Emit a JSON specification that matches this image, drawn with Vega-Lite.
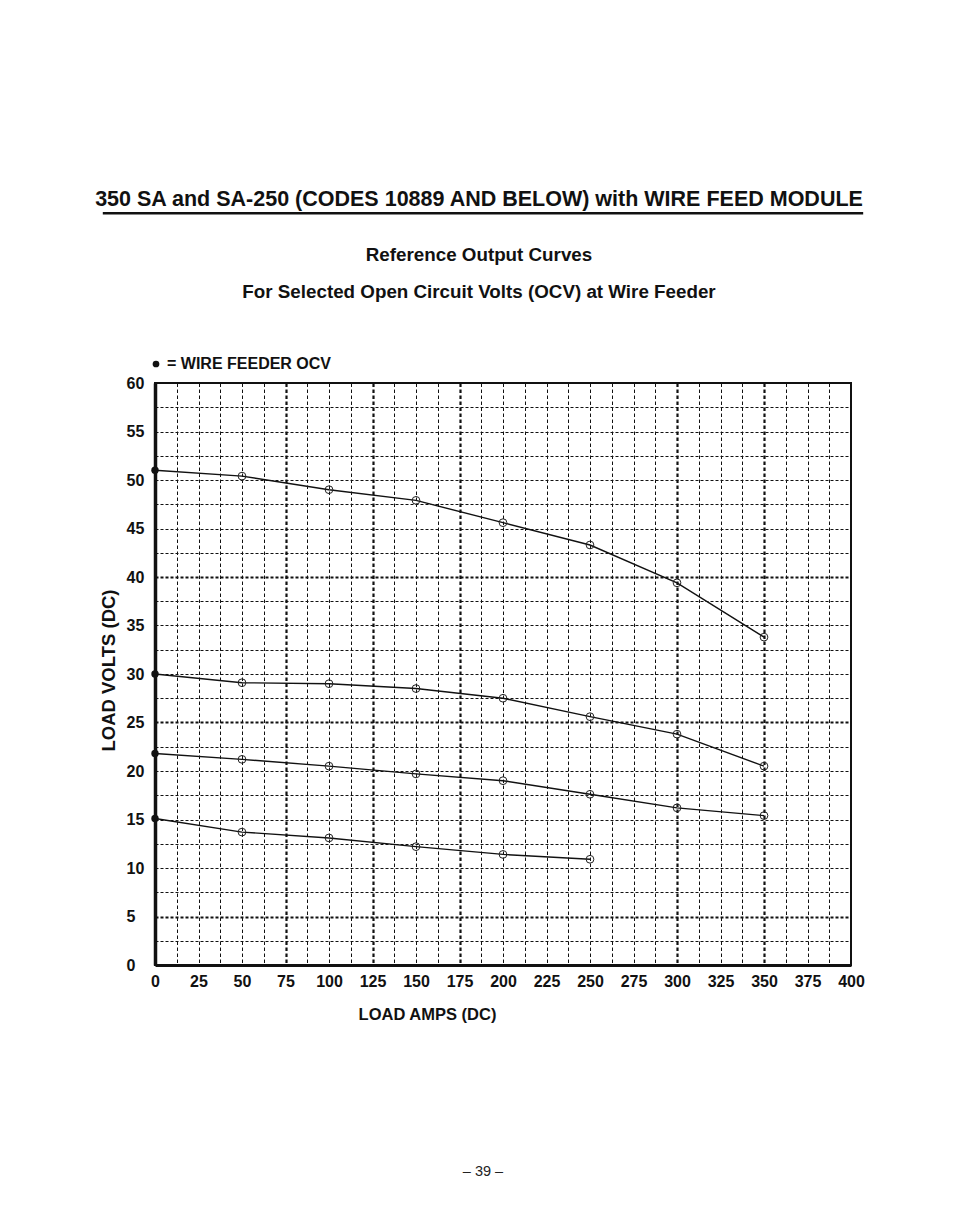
{
  "$schema": "https://vega.github.io/schema/vega-lite/v6.json",
  "width": 696,
  "height": 582,
  "autosize": {"type": "none"},
  "padding": {"left": 155, "top": 383, "right": 103, "bottom": 262},
  "background": "white",
  "config": {
    "font": "Liberation Sans",
    "view": {"stroke": "#111", "strokeWidth": 2}
  },
  "title": {
    "text": "350 SA and SA-250 (CODES 10889 AND BELOW) with WIRE FEED MODULE",
    "subtitle": ["Reference Output Curves", "For Selected Open Circuit Volts (OCV) at Wire Feeder"],
    "anchor": "middle",
    "dx": -24,
    "offset": -90,
    "fontSize": 21.5,
    "fontWeight": "bold",
    "color": "#111",
    "subtitleFont": "Liberation Sans",
    "subtitleFontSize": 18.8,
    "subtitleFontWeight": "bold",
    "subtitleColor": "#111",
    "subtitlePadding": 36,
    "subtitleLineHeight": 37
  },
  "data": {
    "values": [
      {"curve": "51", "amps": 0, "volts": 51.0},
      {"curve": "51", "amps": 50, "volts": 50.4},
      {"curve": "51", "amps": 100, "volts": 49.0},
      {"curve": "51", "amps": 150, "volts": 47.9},
      {"curve": "51", "amps": 200, "volts": 45.6},
      {"curve": "51", "amps": 250, "volts": 43.3},
      {"curve": "51", "amps": 300, "volts": 39.4},
      {"curve": "51", "amps": 350, "volts": 33.8},
      {"curve": "30", "amps": 0, "volts": 30.0},
      {"curve": "30", "amps": 50, "volts": 29.1},
      {"curve": "30", "amps": 100, "volts": 29.0},
      {"curve": "30", "amps": 150, "volts": 28.5},
      {"curve": "30", "amps": 200, "volts": 27.5},
      {"curve": "30", "amps": 250, "volts": 25.6},
      {"curve": "30", "amps": 300, "volts": 23.8},
      {"curve": "30", "amps": 350, "volts": 20.5},
      {"curve": "22", "amps": 0, "volts": 21.8},
      {"curve": "22", "amps": 50, "volts": 21.2},
      {"curve": "22", "amps": 100, "volts": 20.5},
      {"curve": "22", "amps": 150, "volts": 19.7},
      {"curve": "22", "amps": 200, "volts": 19.0},
      {"curve": "22", "amps": 250, "volts": 17.6},
      {"curve": "22", "amps": 300, "volts": 16.2},
      {"curve": "22", "amps": 350, "volts": 15.4},
      {"curve": "15", "amps": 0, "volts": 15.1},
      {"curve": "15", "amps": 50, "volts": 13.7},
      {"curve": "15", "amps": 100, "volts": 13.1},
      {"curve": "15", "amps": 150, "volts": 12.2},
      {"curve": "15", "amps": 200, "volts": 11.4},
      {"curve": "15", "amps": 250, "volts": 10.9}
    ]
  },
  "encoding": {
    "x": {
      "field": "amps",
      "type": "quantitative",
      "scale": {"domain": [0, 400], "nice": false, "zero": false},
      "axis": {
        "values": [0, 12.5, 25, 37.5, 50, 62.5, 75, 87.5, 100, 112.5, 125, 137.5, 150, 162.5, 175, 187.5, 200, 212.5, 225, 237.5, 250, 262.5, 275, 287.5, 300, 312.5, 325, 337.5, 350, 362.5, 375, 387.5, 400],
        "labelExpr": "datum.value % 25 == 0 ? datum.label : ''",
        "labelFlush": false,
        "labelOverlap": false,
        "ticks": false,
        "labelPadding": 8,
        "labelFontSize": 16,
        "labelFontWeight": "bold",
        "labelColor": "#111",
        "domainColor": "#111",
        "domainWidth": 3,
        "grid": true,
        "gridColor": "#111",
        "gridOpacity": 1,
        "gridWidth": {"condition": {"test": "indexof([75, 125, 175, 300, 350], datum.value) >= 0", "value": 2.2}, "value": 1},
        "gridDash": [3.5, 2.5],
        "title": "LOAD AMPS (DC)",
        "titleFontSize": 16.5,
        "titleFontWeight": "bold",
        "titleColor": "#111",
        "titleX": 272,
        "titleY": 41
      }
    },
    "y": {
      "field": "volts",
      "type": "quantitative",
      "scale": {"domain": [0, 60], "nice": false},
      "axis": {
        "values": [0, 2.5, 5, 7.5, 10, 12.5, 15, 17.5, 20, 22.5, 25, 27.5, 30, 32.5, 35, 37.5, 40, 42.5, 45, 47.5, 50, 52.5, 55, 57.5, 60],
        "labelExpr": "datum.value % 5 == 0 ? datum.label : ''",
        "labelFlush": false,
        "labelOverlap": false,
        "ticks": false,
        "labelAlign": "left",
        "labelPadding": 29,
        "labelFontSize": 16,
        "labelFontWeight": "bold",
        "labelColor": "#111",
        "domainColor": "#111",
        "domainWidth": 3.5,
        "grid": true,
        "gridColor": "#111",
        "gridOpacity": 1,
        "gridWidth": {"condition": {"test": "indexof([5, 25, 40], datum.value) >= 0", "value": 2.2}, "value": 1},
        "gridDash": [3, 2],
        "title": "LOAD VOLTS (DC)",
        "titleFontSize": 18.5,
        "titleFontWeight": "bold",
        "titleColor": "#111",
        "titleBaseline": "alphabetic",
        "titleX": -41,
        "titleY": 287
      }
    }
  },
  "layer": [
    {
      "mark": {"type": "line", "color": "#111", "strokeWidth": 1.4},
      "encoding": {"detail": {"field": "curve"}}
    },
    {
      "transform": [{"filter": "datum.amps > 0"}],
      "mark": {"type": "point", "filled": false, "color": "#222", "strokeWidth": 1, "size": 60, "opacity": 1}
    },
    {
      "transform": [{"filter": "datum.amps == 0"}],
      "mark": {"type": "point", "filled": true, "size": 55, "opacity": 1},
      "encoding": {
        "color": {
          "datum": "= WIRE FEEDER OCV",
          "type": "nominal",
          "scale": {"range": ["#111"]},
          "legend": {
            "orient": "none",
            "legendX": -7,
            "legendY": -27,
            "title": null,
            "padding": 0,
            "labelFontSize": 16,
            "labelFontWeight": "bold",
            "labelColor": "#111",
            "labelLimit": 400,
            "labelOffset": 3,
            "symbolType": "circle",
            "symbolSize": 45,
            "symbolStrokeWidth": 0
          }
        }
      }
    },
    {
      "transform": [{"filter": "datum.curve == '51' && datum.amps == 0"}],
      "mark": {"type": "rule", "color": "#111", "strokeWidth": 2.5},
      "encoding": {
        "x": {"datum": -30, "type": "quantitative"},
        "x2": {"datum": 407},
        "y": {"datum": 77.5, "type": "quantitative"}
      }
    },
    {
      "transform": [{"filter": "datum.curve == '51' && datum.amps == 0"}],
      "mark": {"type": "text", "fontSize": 14.5, "color": "#222", "baseline": "middle", "align": "center"},
      "encoding": {
        "x": {"datum": 188.5, "type": "quantitative"},
        "y": {"datum": -21.3, "type": "quantitative"},
        "text": {"value": "– 39 –"}
      }
    }
  ]
}
